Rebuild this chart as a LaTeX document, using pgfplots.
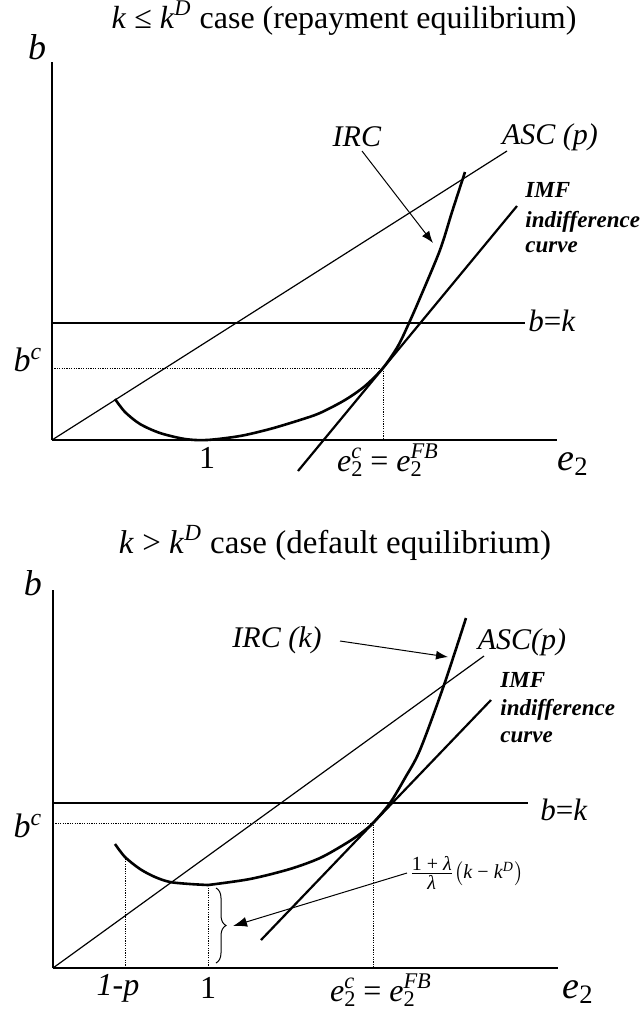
\documentclass[border=0pt]{standalone}
\usepackage{fontspec}
\setmainfont{Liberation Serif}[ItalicFont={Liberation Serif Italic}, BoldFont={Liberation Serif Bold}, BoldItalicFont={Liberation Serif Bold Italic}]
\usepackage{pgfplots}
\pgfplotsset{compat=1.18}
\usetikzlibrary{arrows.meta,decorations.pathreplacing}
\newcommand{\fs}[1]{\fontsize{#1}{#1}\selectfont}
\newcommand{\etwo}[1]{\textit{e}\makebox[0pt][l]{\textsubscript{2}}\textsuperscript{\textit{#1}}}
\begin{document}
\begin{tikzpicture}
\useasboundingbox (0,0) rectangle (320pt,-506.5pt);
% ---------------- top panel ----------------
\begin{axis}[
  at={(26pt,-220pt)}, anchor=south west,
  x=0.5pt, y=0.5pt, xmin=0, xmax=505, ymin=0, ymax=378,
  axis lines=left, axis line style={-, line width=0.8pt},
  xtick=\empty, ytick=\empty, clip=false,
]
% ASC
\addplot[line width=0.6pt] coordinates {(0,0) (455,289)};
% b = k
\addplot[line width=0.9pt] coordinates {(0,117) (473,117)};
% dotted
\addplot[line width=0.4pt, dash pattern=on 0.6pt off 0.6pt] coordinates {(0,72) (331,72) (331,0)};
% IMF indifference curve
\addplot[line width=1.1pt] coordinates {(246,-31) (465,234)};
% IRC
\addplot[line width=1.3pt, smooth] coordinates {
(63,41) (73,28) (88,16) (108,7) (133,1) (155,0) (188,4) (218,11) (248,20)
(268,27) (293,40) (313,54) (331,72) (346,94) (357,117) (368,142) (388,190)
(400,228) (413,268)};
\draw[-{Latex[length=6pt,width=4.5pt]}, line width=0.5pt] (axis cs:310,289) -- (axis cs:381,197);
\node at (axis cs:292,422) {\fs{16}\textit{k} ≤ \textit{k}\textsuperscript{\textit{D}} case (repayment equilibrium)};
\node at (axis cs:-15,393) {\fs{18}\textit{b}};
\node at (axis cs:-24,80) {\fs{17}\textit{b}\textsuperscript{\textit{c}}};
\node at (axis cs:155,-18) {\fs{16}1};
\node at (axis cs:336,-20) {\fs{16}\etwo{c} = \etwo{FB}};
\node at (axis cs:521,-24) {\fs{19}\textit{e}\textsubscript{2}};
\node at (axis cs:305,303) {\fs{15}\textit{IRC}};
\node at (axis cs:498,303) {\fs{15}\textit{ASC (p)}};
\node[anchor=west, inner sep=0pt] at (axis cs:473,250) {\fs{11.5}\textbf{\textit{IMF}}};
\node[anchor=west, inner sep=0pt] at (axis cs:473,218) {\fs{11.5}\textbf{\textit{indifference}}};
\node[anchor=west, inner sep=0pt] at (axis cs:473,193) {\fs{11.5}\textbf{\textit{curve}}};
\node[anchor=west, inner sep=0pt] at (axis cs:476,119) {\fs{15.5}\textit{b}=\textit{k}};
\end{axis}
% ---------------- bottom panel ----------------
\begin{axis}[
  at={(26.5pt,-484pt)}, anchor=south west,
  x=0.5pt, y=0.5pt, xmin=0, xmax=505, ymin=0, ymax=378,
  axis lines=left, axis line style={-, line width=0.8pt},
  xtick=\empty, ytick=\empty, clip=false,
]
% ASC
\addplot[line width=0.6pt] coordinates {(0,0) (431,312)};
% b = k
\addplot[line width=0.9pt] coordinates {(0,165) (475,165)};
% dotted
\addplot[line width=0.4pt, dash pattern=on 0.6pt off 0.6pt] coordinates {(0,145) (320,145) (320,0)};
\addplot[line width=0.4pt, dash pattern=on 0.6pt off 0.6pt] coordinates {(72,0) (72,111)};
\addplot[line width=0.4pt, dash pattern=on 0.6pt off 0.6pt] coordinates {(155,0) (155,83)};
% IMF
\addplot[line width=1.1pt] coordinates {(208,28) (438,268)};
% IRC(k)
\addplot[line width=1.3pt, smooth] coordinates {
(62,124) (72,111) (87,99) (102,91) (117,86) (137,84) (155,83)};
\addplot[line width=1.3pt, smooth] coordinates {
(155,83) (197,89) (237,99) (267,110) (292,124) (307,134) (320,145) (337,165)
(352,190) (367,218) (391,283) (413,350)};
% brace and arrow
\draw[decorate, decoration={brace, amplitude=5pt}, line width=0.5pt] (axis cs:163,80) -- (axis cs:163,5);
\draw[-{Latex[length=7pt,width=5pt]}, line width=0.5pt] (axis cs:354,95) -- (axis cs:180,42);
\node[anchor=west, inner sep=1pt] at (axis cs:354,95) {$\frac{\mbox{\fs{10}1 + \textit{λ}}}{\mbox{\fs{10}\textit{λ}}}\bigl(\mbox{\fs{10}\textit{k} − \textit{k}\textsuperscript{\textit{D}}}\bigr)$};
\draw[-{Latex[length=6pt,width=4.5pt]}, line width=0.5pt] (axis cs:287,327) -- (axis cs:395,311);
\node at (axis cs:282,425) {\fs{16.5}\textit{k} > \textit{k}\textsuperscript{\textit{D}} case (default equilibrium)};
\node at (axis cs:-20,385) {\fs{18}\textit{b}};
\node at (axis cs:-25,142) {\fs{17}\textit{b}\textsuperscript{\textit{c}}};
\node at (axis cs:65,-20) {\fs{16}\textit{1-p}};
\node at (axis cs:155,-20) {\fs{16}1};
\node at (axis cs:328,-22) {\fs{16}\etwo{c} = \etwo{FB}};
\node at (axis cs:525,-24) {\fs{19}\textit{e}\textsubscript{2}};
\node at (axis cs:224,328) {\fs{15}\textit{IRC (k)}};
\node at (axis cs:469,326) {\fs{15}\textit{ASC(p)}};
\node[anchor=west, inner sep=0pt] at (axis cs:447,288) {\fs{11.5}\textbf{\textit{IMF}}};
\node[anchor=west, inner sep=0pt] at (axis cs:447,258) {\fs{11.5}\textbf{\textit{indifference}}};
\node[anchor=west, inner sep=0pt] at (axis cs:447,231) {\fs{11.5}\textbf{\textit{curve}}};
\node[anchor=west, inner sep=0pt] at (axis cs:487,158) {\fs{15.5}\textit{b}=\textit{k}};
\end{axis}
\end{tikzpicture}
\end{document}
